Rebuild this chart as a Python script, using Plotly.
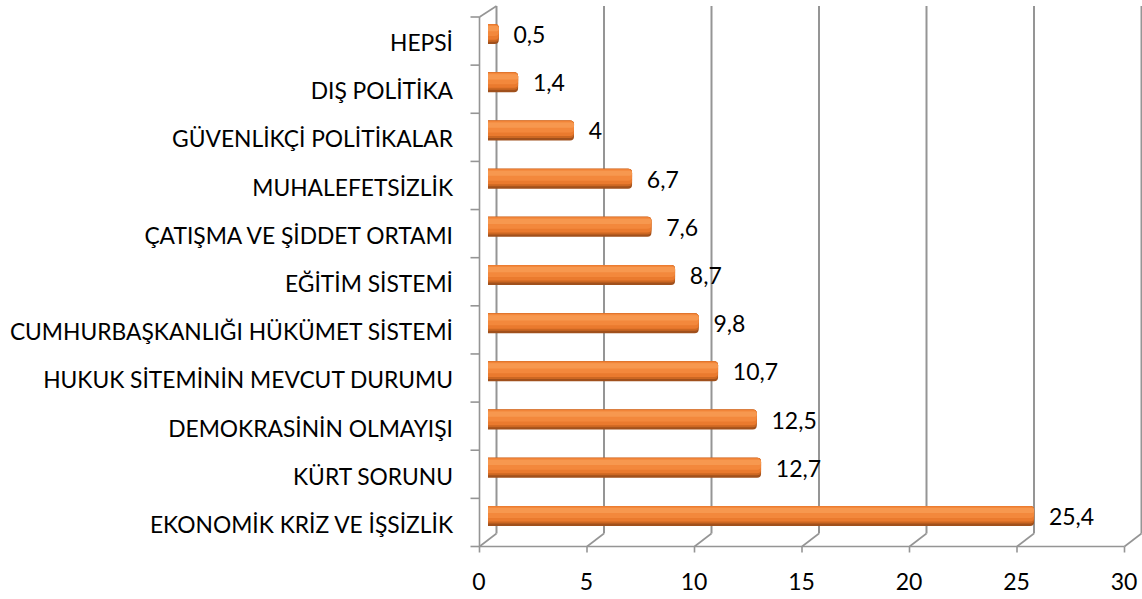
import plotly.graph_objects as go

# ---------------- data ----------------
categories = [
    "HEPSİ",
    "DIŞ POLİTİKA",
    "GÜVENLİKÇİ POLİTİKALAR",
    "MUHALEFETSİZLİK",
    "ÇATIŞMA VE ŞİDDET ORTAMI",
    "EĞİTİM SİSTEMİ",
    "CUMHURBAŞKANLIĞI HÜKÜMET SİSTEMİ",
    "HUKUK SİTEMİNİN MEVCUT DURUMU",
    "DEMOKRASİNİN OLMAYIŞI",
    "KÜRT SORUNU",
    "EKONOMİK KRİZ VE İŞSİZLİK",
]
values = [0.5, 1.4, 4, 6.7, 7.6, 8.7, 9.8, 10.7, 12.5, 12.7, 25.4]
x_ticks = [0, 5, 10, 15, 20, 25, 30]
x_tick_labels = ["0", "5", "10", "15", "20", "25", "30"]
value_labels = [f"{v:g}".replace(".", ",") for v in values]

# ---------------- geometry / style ----------------
W, H = 1142, 599
ML, MR, MT, MB = 488, 9, 10, 59
PW, PH = W - ML - MR, H - MT - MB
XMAX = x_ticks[-1]
PXU = PW / XMAX           # pixels per unit on x
N = len(categories)
CAT = PH / N              # pixels per category
DX, DY = 8.5, 6.5         # half depth of the 3D box in pixels
TOP_BACK = PH + 4         # back wall top (px above plot bottom)
TOP_FRONT = PH - 7        # front-left wall top
GRID = "#959595"
FONT = "Lato"

def xp(px):
    return px / PW

def yp(px):
    return px / PH

def line(x0, y0, x1, y1, width=1.6, layer="below"):
    return dict(type="line", xref="paper", yref="paper",
                x0=xp(x0), y0=yp(y0), x1=xp(x1), y1=yp(y1),
                line=dict(color=GRID, width=width), layer=layer)

shapes = []
for t in x_ticks:
    px = t * PXU
    # back wall gridline
    shapes.append(line(px + DX, DY, px + DX, TOP_BACK, width=2))
    # floor diagonal
    shapes.append(line(px - DX, -DY, px + DX, DY))
    # tick mark below front floor
    shapes.append(line(px - DX, -DY, px - DX, -DY - 6))
# front floor edge
shapes.append(line(-DX, -DY, PW - DX, -DY))
# left wall front edge + top diagonal
shapes.append(line(-DX, -DY, -DX, TOP_FRONT))
shapes.append(line(-DX, TOP_FRONT, DX, TOP_BACK))
# category tick marks on the left wall
for k in range(N + 1):
    yk = k * (TOP_FRONT + DY) / N - DY
    shapes.append(line(-DX - 9, yk, -DX, yk))

# ---------------- bars (cylinder look via layered bars) ----------------
BW = 20 / CAT
layers = [
    (0.00, 1.00, "#A0501C"),
    (0.00, 0.88, "#CC6722"),
    (0.00, 0.78, "#EA7A2E"),
    (0.04, 0.60, "#F3883C"),
    (0.10, 0.36, "#F7984F"),
]

fig = go.Figure()
for i, (f0, f1, col) in enumerate(layers):
    kw = {}
    if i == 0:
        kw = dict(text=["\u00a0\u00a0" + s for s in value_labels],
                  textposition="outside",
                  textfont=dict(family=FONT, size=23, color="#000000"),
                  cliponaxis=False, constraintext="none")
    fig.add_trace(go.Bar(
        x=values, y=categories, orientation="h",
        width=BW * (f1 - f0), offset=-BW / 2 + BW * f0,
        marker=dict(color=col, line=dict(width=0), cornerradius=4),
        hoverinfo="skip", showlegend=False, **kw))

fig.update_layout(
    width=W, height=H,
    margin=dict(l=ML, r=MR, t=MT, b=MB, pad=0, autoexpand=False),
    paper_bgcolor="white", plot_bgcolor="white",
    barmode="overlay",
    shapes=shapes,
    font=dict(family=FONT, size=23, color="#000000"),
    xaxis=dict(range=[0, XMAX], tickvals=x_ticks, ticktext=x_tick_labels,
               showgrid=False, zeroline=False, showline=False, ticks="",
               ticklabelshift=-9, ticklabelstandoff=26, automargin=False,
               tickfont=dict(family=FONT, size=23, color="#000000"),
               fixedrange=True),
    yaxis=dict(type="category", categoryorder="array", categoryarray=categories,
               range=[N - 0.5, -0.5], showgrid=False, zeroline=False,
               showline=False, ticks="", ticklabelstandoff=34,
               ticklabelshift=-9, automargin=False,
               tickfont=dict(family=FONT, size=22.8, color="#000000"),
               fixedrange=True),
)

fig.write_html(
    "out.html",
    config={"displayModeBar": False},
    post_script="document.body.style.margin='0';document.body.style.overflow='hidden';",
)
